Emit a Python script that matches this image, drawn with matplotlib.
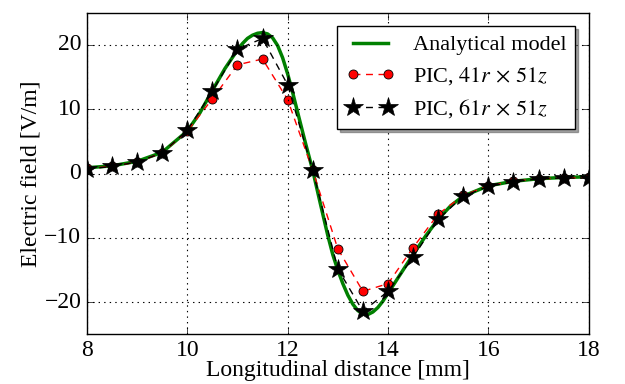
import numpy as np
import matplotlib
matplotlib.use('Agg')
import matplotlib.pyplot as plt

plt.style.use('classic')
plt.rcParams['font.family'] = ['Liberation Serif', 'DejaVu Serif']
plt.rcParams['mathtext.fontset'] = 'stix'

# analytical model
x_model = [8, 8.5, 9, 9.5, 10, 10.25, 10.5, 10.75, 11, 11.1, 11.2, 11.3, 11.4,
           11.5, 11.6, 11.7, 11.8, 11.9, 12, 12.1, 12.2, 12.35, 12.5, 12.65,
           12.8, 12.9, 13, 13.1, 13.2, 13.3, 13.4, 13.5, 13.6, 13.7, 13.8, 13.9,
           14, 14.25, 14.5, 14.75, 15, 15.25, 15.5, 16, 16.5, 17, 17.5, 18]
e_model = [0.9, 1.2, 1.9, 3.3, 6.6, 9.4, 12.9, 16.3, 19.2, 20.2, 21.0, 21.5, 21.8,
           21.9, 21.7, 21.1, 19.9, 18.0, 15.5, 12.6, 9.5, 4.9, 0.5, -4.6,
           -9.6, -12.6, -15.0, -17.1, -18.9, -20.3, -21.3, -21.8, -21.9, -21.5, -20.8, -19.8,
           -18.6, -15.6, -12.6, -9.7, -7.1, -5.0, -3.5, -1.9, -1.2, -0.8, -0.6, -0.5]

# PIC samples
x_pic = [8, 8.5, 9, 9.5, 10, 10.5, 11, 11.5, 12, 12.5, 13, 13.5, 14, 14.5,
         15, 15.5, 16, 16.5, 17, 17.5, 18]
e_pic41 = [0.8, 1.1, 1.8, 3.2, 6.6, 11.6, 16.9, 17.8, 11.5, 0.5, -11.7, -18.3,
           -17.1, -11.5, -6.3, -3.4, -1.9, -1.2, -0.8, -0.7, -0.6]
e_pic61 = [0.7, 1.1, 1.8, 3.2, 6.7, 12.8, 19.3, 21.0, 13.8, 0.5, -14.8, -21.4,
           -18.3, -13.0, -7.1, -3.5, -2.0, -1.3, -0.8, -0.7, -0.7]

fig = plt.figure(figsize=(6.25, 3.84), dpi=100)
fig.patch.set_facecolor('white')
ax = fig.add_axes([0.139, 0.129, 0.803, 0.838])

ax.plot(x_model, e_model, '-', color='green', lw=2.5, label='Analytical model')
ax.plot(x_pic, e_pic41, 'r--', marker='o', ms=6.5, mfc='red', mec='k', mew=0.6,
        lw=1, dashes=(5, 4), label=r'PIC, $41r\,\times\,51z$')
ax.plot(x_pic, e_pic61, 'k--', marker='*', ms=15, lw=1, dashes=(5, 4),
        label=r'PIC, $61r\,\times\,51z$')

ax.set_xlim(8, 18)
ax.set_ylim(-25, 25)
ax.set_xticks([8, 10, 12, 14, 16, 18])
ax.set_yticks([-20, -10, 0, 10, 20])
ax.grid(True, color='k', linestyle=':', lw=0.8)
ax.tick_params(labelsize=17, direction='in', length=5)
ax.set_xlabel('Longitudinal distance [mm]', fontsize=17, labelpad=-1)
ax.set_ylabel('Electric field [V/m]', fontsize=17, labelpad=2)

leg = ax.legend(loc='upper right', fontsize=16, shadow=True, numpoints=2,
                handlelength=2.2, borderaxespad=0.6, fancybox=False,
                labelspacing=0.45)
leg.get_frame().set_linewidth(1)

fig.savefig('out.png', dpi=100, facecolor='white')
